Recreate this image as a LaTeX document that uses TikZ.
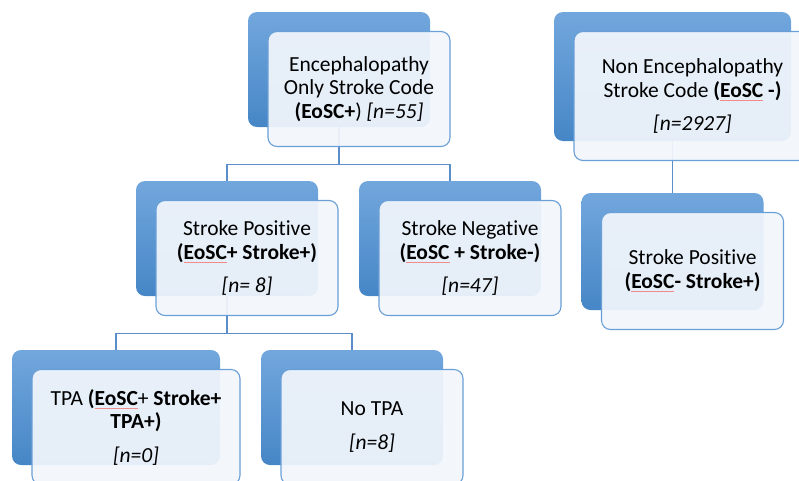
\documentclass[tikz,border=0pt]{standalone}
\usepackage{fontspec}
\setmainfont{Carlito}[Ligatures=CommonOff]
\usetikzlibrary{backgrounds}
\usetikzlibrary{positioning}
\definecolor{boxtop}{HTML}{72A7DD}
\definecolor{boxbot}{HTML}{4686C6}
\definecolor{boxline}{HTML}{6A9FD6}
\definecolor{boxfill}{HTML}{F2F6FC}
\definecolor{linkblue}{HTML}{5B8DC8}
\definecolor{spellred}{HTML}{F08C8C}
\newcommand{\spell}[1]{\setbox0\hbox{#1}\rlap{\raisebox{-3.5pt}{\textcolor{spellred}{\rule{\wd0}{0.9pt}}}}\box0\relax}

\begin{document}
\begin{tikzpicture}[x=1pt,y=1pt,node distance=169pt,
                    every node/.style={font=\fontsize{21.5}{23.5}\selectfont},
                    back/.style=  {rounded corners=9pt,top color=boxtop,bottom color=boxbot,minimum width=182pt,minimum height=115pt,inner sep=0pt},
                    front/.style= {rounded corners=9pt,draw=boxline,line width=1.1pt,fill=boxfill,fill opacity=0.93,text opacity=1,
                                   minimum width=182pt,minimum height=115pt,inner sep=0pt,align=center,xshift=20pt,yshift=-19.5pt},
                    link/.style=  {draw=linkblue,line width=1.2pt}]
      \useasboundingbox (0,0) rectangle (799,-480);
      \node[back] (a) at (339,-69.5) {};
      \node[back, minimum width=237pt, minimum height=129pt, right of=a, xshift=164.5pt, yshift=-7pt] (b) {};
      \node[back, below of=a, xshift=-112pt] (c) {};
      \node[back, below of=a, xshift=111pt] (d) {};
      \node[back, minimum height=117pt, below of=b, yshift=-6pt] (e) {};
      \node[back, minimum width=208pt, below of=c, xshift=-111pt] (f) {};
      \node[back, below of=c, xshift=125pt] (g) {};
      \node[front] (ta) at (a) {Encephalopathy\\Only Stroke Code\\\textbf{(EoSC+}) \textit{[n=55]}};
      \node[front, minimum width=237pt, minimum height=129pt] (tb) at (b) {Non Encephalopathy\\Stroke Code \textbf{(\spell{EoSC} -)}\\[10pt]\textit{[n=2927]}};
      \node[front] (tc) at (c) {Stroke Positive\\\textbf{(\spell{EoSC}+ Stroke+)}\\[10pt]\textit{[n= 8]}};
      \node[front] (td) at (d) {Stroke Negative\\\textbf{(\spell{EoSC} + Stroke-)}\\[10pt]\textit{[n=47]}};
      \node[front, minimum height=117pt] (te) at (e) {Stroke Positive\\\textbf{(\spell{EoSC}- Stroke+)}};
      \node[front, minimum width=208pt] (tf) at (f) {TPA \textbf{(\spell{EoSC}}+ \textbf{Stroke+}\\\textbf{TPA+)}\\[10pt]\textit{[n=0]}};
      \node[front] (tg) at (g) {No TPA\\[10pt]\textit{[n=8]}};
      \begin{scope}[on background layer]
        \draw[link] (a.south) -- ++(0,-37) -| (c.north);
        \draw[link] (a.south) -- ++(0,-37) -| (d.north);
        \draw[link] (b.south) -- (e.north);
        \draw[link] (c.south) -- ++(0,-37) -| (f.north);
        \draw[link] (c.south) -- ++(0,-37) -| (g.north);
      \end{scope}
\end{tikzpicture}
\end{document}
